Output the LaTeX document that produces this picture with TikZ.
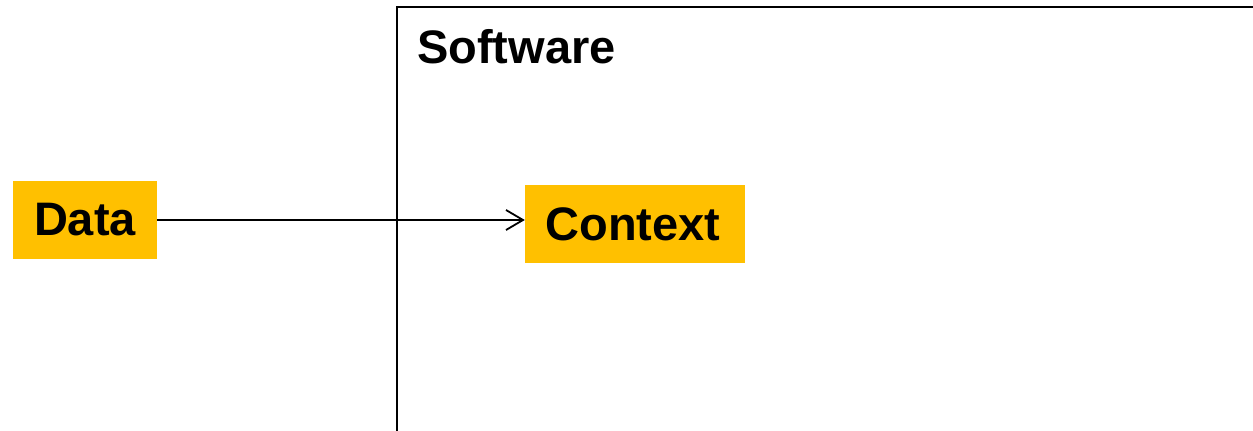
\documentclass[tikz,border=0pt]{standalone}
\usepackage{fontspec}
\setmainfont{Liberation Sans}
\usetikzlibrary{arrows.meta}
\definecolor{boxfill}{HTML}{FFC000}
\begin{document}
\begin{tikzpicture}[x=1pt,y=-1pt,
  item/.style={fill=boxfill, inner sep=0pt, font=\fontsize{47}{50}\selectfont\bfseries},
  title/.style={font=\fontsize{47}{50}\selectfont\bfseries, inner sep=0pt},
  link/.style={line width=1.5pt, -{Straight Barb[length=17pt,width=20pt,line width=1.8pt]}}]
  \useasboundingbox (0,0) rectangle (1253,431);
  % software frame, running off the right and bottom edges
  \coordinate (fbl) at (397,440);
  \coordinate (ftl) at (397,7);
  \coordinate (ftr) at (1260,7);
  \draw[line width=2pt] (fbl) -- (ftl) -- (ftr);
  \node[title, anchor=base west] (sw) at (417,63) {Software};
  \node[item, minimum width=144pt, minimum height=78pt] (data) at (85,220) {Data};
  \node[item, minimum width=220pt, minimum height=78pt, text depth=0pt, xshift=0pt] (ctx) at (635,224) {\hspace*{-4pt}Context};
  \draw[link] (data.east) -- (ctx.west |- data.east);
\end{tikzpicture}
\end{document}
